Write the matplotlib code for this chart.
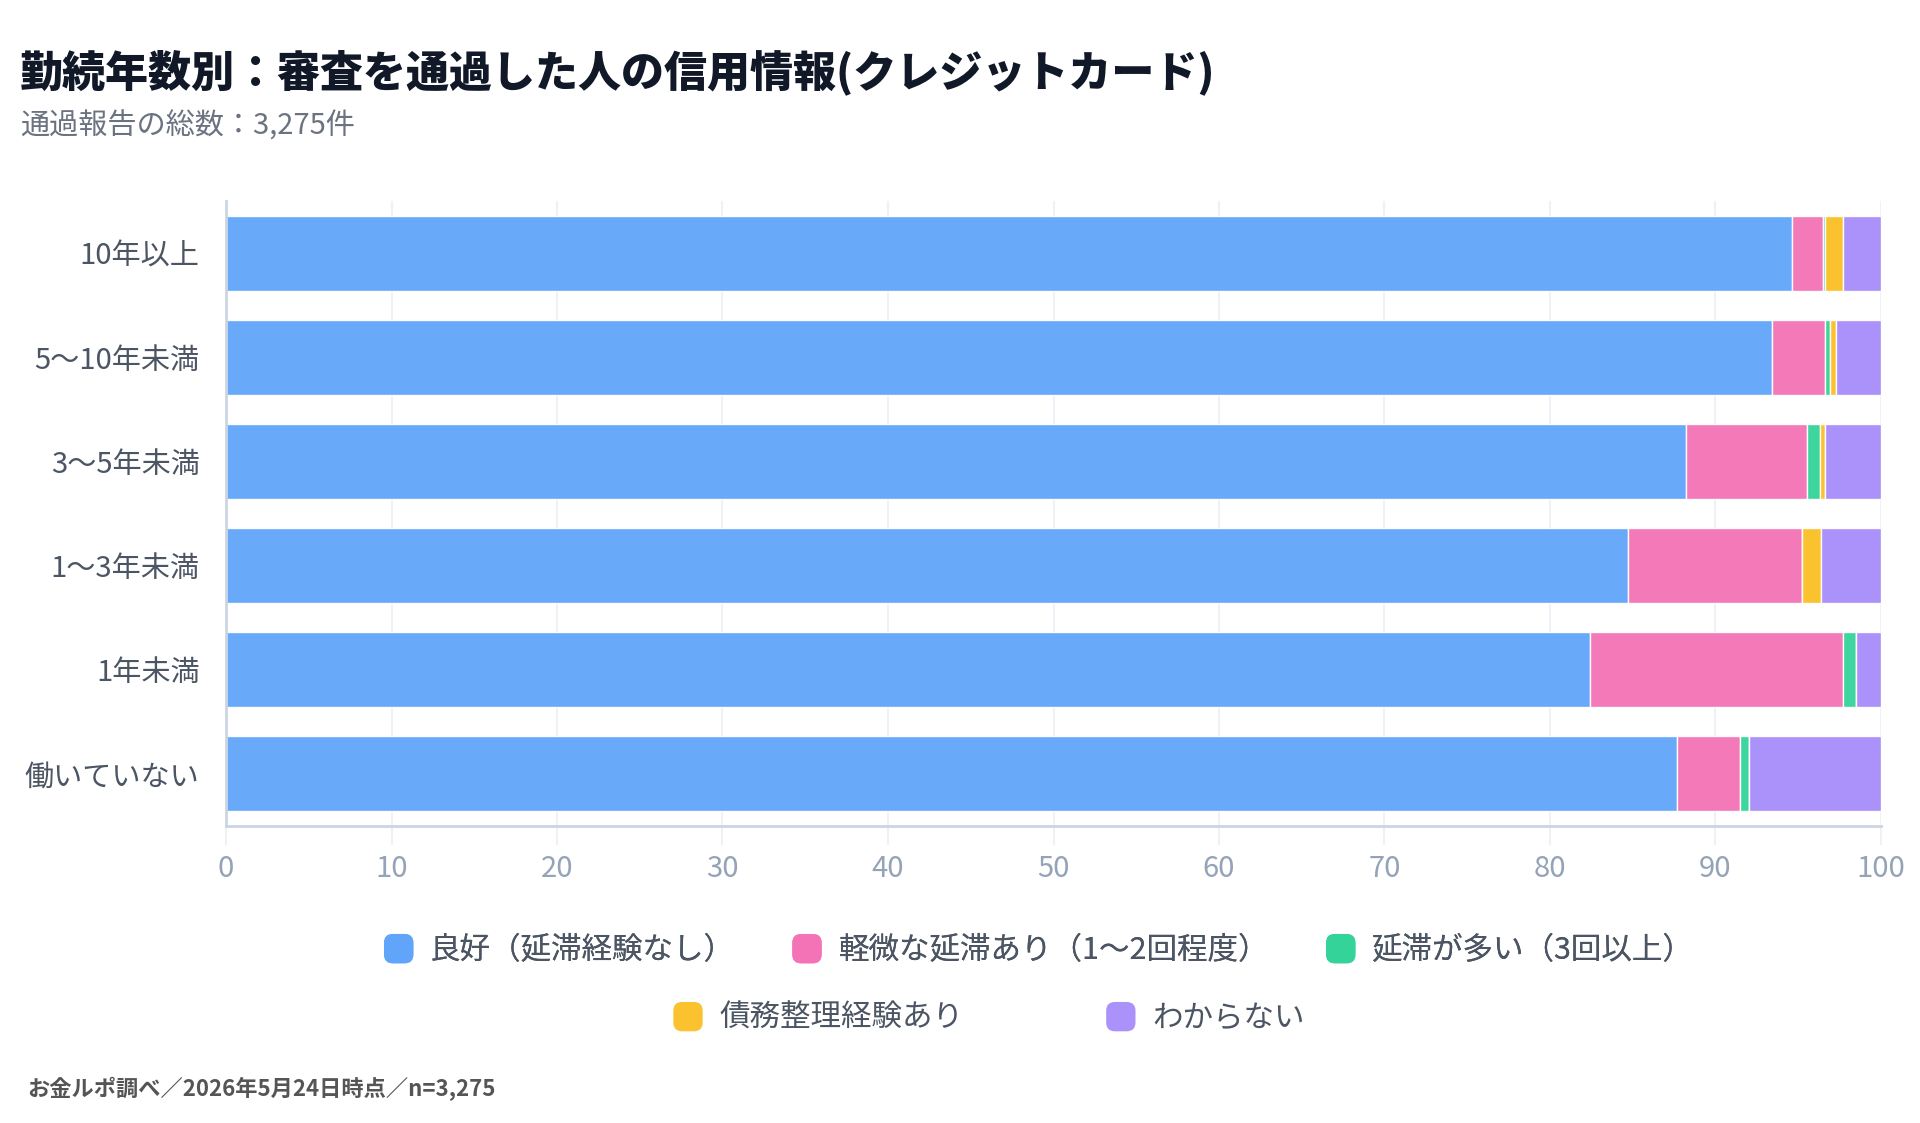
import matplotlib
matplotlib.use("Agg")
import matplotlib.pyplot as plt
from matplotlib.patches import Patch, FancyBboxPatch
from matplotlib.legend_handler import HandlerPatch
import numpy as np

plt.rcParams['font.family'] = ['Noto Sans CJK JP', 'DejaVu Sans']

# data (percent of each tenure group)
categories = ['10年以上', '5〜10年未満', '3〜5年未満', '1〜3年未満', '1年未満', '働いていない']
good = [94.6, 93.4, 88.2, 84.7, 82.4, 87.7]
minor = [1.9, 3.2, 7.3, 10.5, 15.3, 3.8]
many = [0.1, 0.3, 0.8, 0.0, 0.8, 0.5]
debt = [1.1, 0.4, 0.3, 1.2, 0.0, 0.0]
unknown = [2.3, 2.7, 3.4, 3.6, 1.5, 8.0]

series_labels = ['良好（延滞経験なし）', '軽微な延滞あり（1〜2回程度）', '延滞が多い（3回以上）',
                 '債務整理経験あり', 'わからない']
colors = ['#60a5fa', '#f472b6', '#34d399', '#fbbf24', '#a78bfa']
xticks = [0, 10, 20, 30, 40, 50, 60, 70, 80, 90, 100]

title = '勤続年数別：審査を通過した人の信用情報(クレジットカード)'
subtitle = '通過報告の総数：3,275件'
footer = 'お金ルポ調べ／2026年5月24日時点／n=3,275'


class RoundHandler(HandlerPatch):
    def create_artists(self, legend, orig_handle, xdescent, ydescent,
                       width, height, fontsize, trans):
        s = min(width, height)
        x0 = -xdescent + (width - s) / 2
        y0 = -ydescent + (height - s) / 2
        p = FancyBboxPatch((x0, y0), s, s,
                           boxstyle='round,pad=0,rounding_size=%f' % (s * 0.3),
                           facecolor=orig_handle.get_facecolor(),
                           edgecolor='none', transform=trans)
        return [p]


fig = plt.figure(figsize=(19.2, 11.23), dpi=100)
ax = fig.add_axes([226 / 1920, 1 - 826 / 1123, (1881 - 226) / 1920, (826 - 201) / 1123])

y = np.arange(len(categories))
left = np.zeros(len(categories))
for vals, col in zip([good, minor, many, debt, unknown], colors):
    ax.barh(y, vals, left=left, height=0.72, color=col, alpha=0.95,
            edgecolor='white', linewidth=1, zorder=3)
    left += np.array(vals)

ax.set_xlim(0, 100)
ax.set_ylim(len(categories) - 0.5, -0.5)
ax.set_yticks(y)
ax.set_yticklabels(categories, fontsize=21, color='#4b5563')
ax.set_xticks(xticks)
ax.set_xticklabels([str(t) for t in xticks], fontsize=21, color='#94a3b8')
ax.tick_params(axis='y', length=0, pad=19)
ax.tick_params(axis='x', length=14, width=1.5, color='#eef1f5', pad=6)
ax.grid(axis='x', color='#eef1f5', linewidth=1.5, zorder=0)
ax.set_axisbelow(True)
for s in ['top', 'right']:
    ax.spines[s].set_visible(False)
for s in ['left', 'bottom']:
    ax.spines[s].set_color('#cbd5e1')
    ax.spines[s].set_linewidth(2)
    ax.spines[s].set_zorder(4)

fig.text(20 / 1920, 1 - 72 / 1123, title, fontsize=31, fontweight='heavy',
         color='#111827', va='center', ha='left')
fig.text(20 / 1920, 1 - 126 / 1123, subtitle, fontsize=21,
         color='#6b7280', va='center', ha='left')

handles = [Patch(facecolor=c, alpha=0.95) for c in colors]
hmap = {Patch: RoundHandler()}
leg1 = fig.legend(handles[:3], series_labels[:3], ncol=3, loc='center',
                  bbox_to_anchor=(1038 / 1920, 1 - 950 / 1123), frameon=False,
                  fontsize=22, columnspacing=1.8, handletextpad=0.48,
                  handlelength=1.1, handleheight=1.1, labelcolor='#4b5563',
                  handler_map=hmap)
leg2 = fig.legend(handles[3:], series_labels[3:], ncol=2, loc='center',
                  bbox_to_anchor=(988 / 1920, 1 - 1018 / 1123), frameon=False,
                  fontsize=22, columnspacing=4.6, handletextpad=0.48,
                  handlelength=1.1, handleheight=1.1, labelcolor='#4b5563',
                  handler_map=hmap)
fig.add_artist(leg1)

fig.text(27 / 1920, 1 - 1089 / 1123, footer, fontsize=16, fontweight='bold',
         color='#555555', va='center', ha='left')

fig.savefig('out.png', dpi=100)
